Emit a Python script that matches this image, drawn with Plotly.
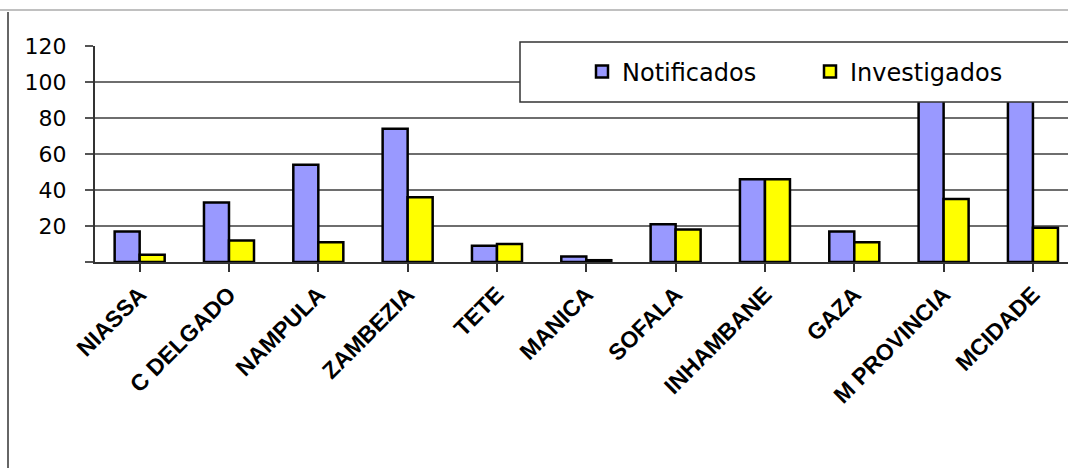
import plotly.graph_objects as go

categories = ["NIASSA", "C DELGADO", "NAMPULA", "ZAMBEZIA", "TETE", "MANICA",
              "SOFALA", "INHAMBANE", "GAZA", "M PROVINCIA", "MCIDADE"]
notificados = [17, 33, 54, 74, 9, 3, 21, 46, 17, 105, 110]
investigados = [4, 12, 11, 36, 10, 1, 18, 46, 11, 35, 19]
y_tick_vals = [0, 20, 40, 60, 80, 100, 120]
y_tick_text = ["", "20", "40", "60", "80", "100", "120"]

W, H = 1068, 468
L, R, T, B = 95, 0, 46, 206
pw, ph = W - L - R, H - T - B

def px(x):
    return (x - L) / pw

def py(y):
    return (H - B - y) / ph

fig = go.Figure()
fig.add_trace(go.Bar(name="Notificados", x=list(range(len(categories))), y=notificados,
                     marker=dict(color="#9999FF", line=dict(color="#000000", width=2.5))))
fig.add_trace(go.Bar(name="Investigados", x=list(range(len(categories))), y=investigados,
                     marker=dict(color="#FFFF00", line=dict(color="#000000", width=2.5))))

# legend box
fig.add_shape(type="rect", xref="paper", yref="paper",
              x0=px(520), x1=px(1090), y0=py(102), y1=py(42),
              fillcolor="white", line=dict(color="#333333", width=1.5), layer="above")
# outer frame
fig.add_shape(type="line", xref="paper", yref="paper",
              x0=px(0), x1=px(1068), y0=py(10), y1=py(10),
              line=dict(color="#C0C0C0", width=2))
fig.add_shape(type="line", xref="paper", yref="paper",
              x0=px(8), x1=px(8), y0=py(12), y1=py(470),
              line=dict(color="#333333", width=1.5))

fig.update_layout(
    width=W, height=H,
    margin=dict(l=L, r=R, t=T, b=B, pad=0),
    paper_bgcolor="white", plot_bgcolor="white",
    barmode="group", bargap=0.44, bargroupgap=0,
    font=dict(family="Liberation Sans, Arial, sans-serif", color="#000000"),
    showlegend=True,
    legend=dict(orientation="h", x=px(582), y=py(72), xanchor="left", yanchor="middle",
                bgcolor="rgba(0,0,0,0)", borderwidth=0,
                font=dict(family="DejaVu Sans, sans-serif", size=24, color="#000000"),
                entrywidth=183, entrywidthmode="pixels", itemwidth=30),
    xaxis=dict(
        range=[-0.5, 10.5 - (1077.6 - 1068) / 89.3],
        tickmode="array", tickvals=list(range(len(categories))), ticktext=categories,
        tickangle=-45, tickson="boundaries",
        ticks="outside", ticklen=8, tickwidth=1.5, tickcolor="#333333",
        showline=True, linecolor="#333333", linewidth=2,
        showgrid=False, zeroline=False,
        tickfont=dict(family="Liberation Sans, Arial, sans-serif", size=23,
                      weight="bold", color="#000000"),
    ),
    yaxis=dict(
        range=[0, 120], tickmode="array", tickvals=y_tick_vals, ticktext=y_tick_text,
        ticks="outside", ticklen=8, tickwidth=2, tickcolor="#555555",
        showline=True, linecolor="#333333", linewidth=2,
        showgrid=True, gridcolor="#6E6E6E", gridwidth=2,
        zeroline=False,
        tickfont=dict(family="DejaVu Sans, sans-serif", size=22, color="#000000"),
        ticklabelstandoff=14,
    ),
)

fig.write_html("out.html", config={"displayModeBar": False},
               post_script="document.body.style.margin='0';")
